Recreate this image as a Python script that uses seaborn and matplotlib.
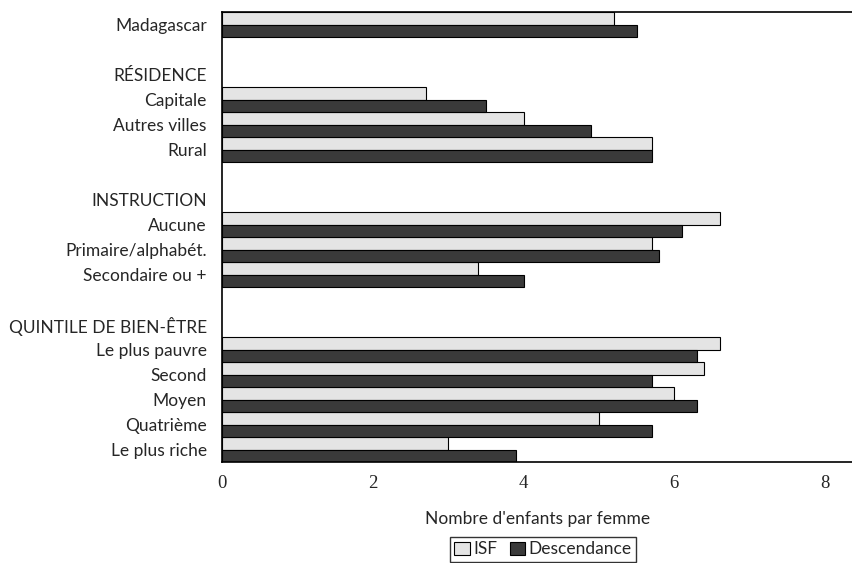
import matplotlib
matplotlib.use("Agg")
import matplotlib.pyplot as plt
import pandas as pd
import seaborn as sns

# rows from top to bottom (blank strings are spacer rows, headers have no bars)
rows = ["Madagascar", "", "RÉSIDENCE", "Capitale", "Autres villes", "Rural",
        " ", "INSTRUCTION", "Aucune", "Primaire/alphabét.", "Secondaire ou +",
        "  ", "QUINTILE DE BIEN-ÊTRE", "Le plus pauvre", "Second", "Moyen",
        "Quatrième", "Le plus riche"]

groups = ["Madagascar", "Capitale", "Autres villes", "Rural", "Aucune",
          "Primaire/alphabét.", "Secondaire ou +", "Le plus pauvre", "Second",
          "Moyen", "Quatrième", "Le plus riche"]
isf = [5.2, 2.7, 4.0, 5.7, 6.6, 5.7, 3.4, 6.6, 6.4, 6.0, 5.0, 3.0]
descendance = [5.5, 3.5, 4.9, 5.7, 6.1, 5.8, 4.0, 6.3, 5.7, 6.3, 5.7, 3.9]

series = ["ISF", "Descendance"]
colors = ["#e4e4e4", "#3a3a3a"]

df = pd.concat([
    pd.DataFrame({"groupe": groups, "valeur": isf, "serie": "ISF"}),
    pd.DataFrame({"groupe": groups, "valeur": descendance, "serie": "Descendance"}),
])

sns.set_style("white")
plt.rcParams["font.family"] = ["Lato", "DejaVu Sans"]

fig = plt.figure(figsize=(8.53, 5.63), dpi=100)
ax = fig.add_axes([222 / 853, 1 - 462 / 563, 1 - 222 / 853, 450 / 563])

sns.barplot(data=df, y="groupe", x="valeur", hue="serie", order=rows,
            hue_order=series, palette=colors, width=1.0, orient="h",
            edgecolor="black", linewidth=0.8, ax=ax, legend=False)

ax.set_xlim(0, 8.37)
ax.set_ylim(len(rows) - 0.5, -0.5)
ax.set_xticks([0, 2, 4, 6, 8])
ax.set_xticklabels(["0", "2", "4", "6", "8"], family="Liberation Serif", fontsize=13.5)
ax.set_yticks(range(len(rows)))
ax.set_yticklabels(rows, fontsize=12.5)
ax.tick_params(axis="both", length=0)
ax.tick_params(axis="x", pad=9)
ax.tick_params(axis="y", pad=11)
ax.set_ylabel("")
ax.set_xlabel("Nombre d'enfants par femme", fontsize=12.5, labelpad=14)

for side in ["left", "top", "bottom"]:
    ax.spines[side].set_color("black")
    ax.spines[side].set_linewidth(1.2)
ax.spines["right"].set_visible(False)

handles = [plt.Rectangle((0, 0), 1, 1, facecolor=c, edgecolor="black", linewidth=0.8)
           for c in colors]
leg = fig.legend(handles, series, loc="upper center", bbox_to_anchor=(543 / 853, 1 - 537 / 563),
                 ncol=2, fontsize=12.5, frameon=True, fancybox=False, handlelength=0.9,
                 handleheight=0.8, handletextpad=0.2, columnspacing=0.7, borderpad=0.25,
                 borderaxespad=0)
leg.get_frame().set_edgecolor("black")
leg.get_frame().set_linewidth(1.0)

fig.savefig("out.png", dpi=100)
